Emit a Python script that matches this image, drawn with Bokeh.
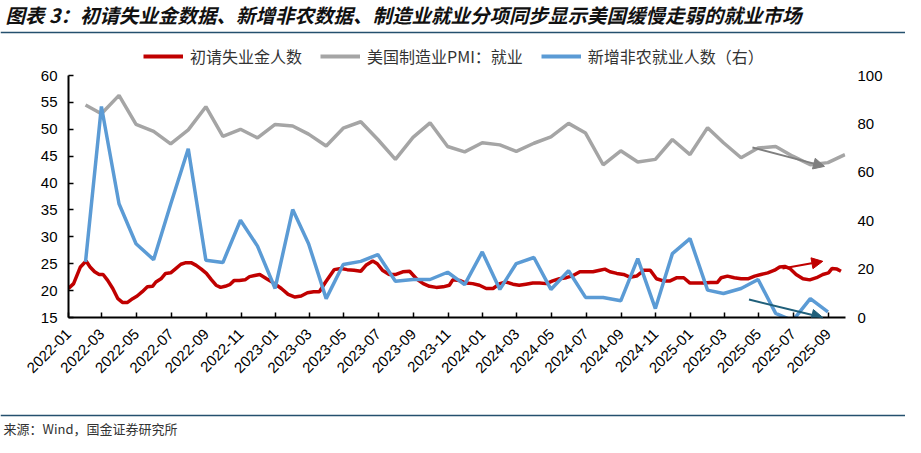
import pandas as pd
from math import pi
from bokeh.plotting import figure
from bokeh.layouts import column
from bokeh.models import (Range1d, LinearAxis, FixedTicker, DatetimeTickFormatter,
                          Legend, LegendItem, Arrow, NormalHead, ColumnDataSource)
from bokeh.core.properties import value
from bokeh.embed import file_html
from bokeh.resources import INLINE

# ---------------- data ----------------
title_text = "图表 3：初请失业金数据、新增非农数据、制造业就业分项同步显示美国缓慢走弱的就业市场"
source_text = "来源：Wind，国金证券研究所"
series_names = ["初请失业金人数", "美国制造业PMI：就业", "新增非农就业人数（右）"]

# monthly observation dates (month ends), Jan 2022 .. Sep 2025
month_ends = pd.date_range("2022-01-31", periods=45, freq=pd.offsets.MonthEnd())

# US ISM manufacturing PMI: employment (left axis)
pmi_employment = [54.5, 52.9, 56.3, 50.9, 49.6, 47.3, 49.9, 54.2, 48.7, 50.0, 48.4, 50.9,
                  50.6, 49.1, 46.9, 50.2, 51.4, 48.1, 44.4, 48.5, 51.2, 46.8, 45.8, 47.5,
                  47.1, 45.9, 47.4, 48.6, 51.1, 49.3, 43.4, 46.0, 43.9, 44.4, 48.1, 45.3,
                  50.3, 47.5, 44.7, 46.5, 46.8, 45.0, 43.4, 43.8, 45.3]

# Nonfarm payrolls change, 10k persons (right axis), Jan 2022 .. Aug 2025
nonfarm = [23.0, 87.2, 47.0, 30.5, 23.9, 46.8, 69.7, 23.7, 22.7, 40.2, 29.5, 12.0,
           44.6, 30.5, 7.8, 21.9, 23.2, 26.0, 15.0, 15.7, 15.7, 18.7, 13.6, 27.1,
           11.6, 22.3, 24.8, 11.6, 19.3, 8.3, 8.3, 6.9, 24.3, 3.7, 26.4, 32.6,
           11.3, 9.9, 12.0, 15.7, 1.7, -1.3, 7.8, 2.3]

# Initial jobless claims, 10k persons (left axis)
claims_dates = [
    "2022-01-01", "2022-01-10", "2022-01-22", "2022-02-01", "2022-02-08", "2022-02-16",
    "2022-02-24", "2022-03-03", "2022-03-11", "2022-03-20", "2022-03-29", "2022-04-06",
    "2022-04-15", "2022-04-24", "2022-05-02", "2022-05-11", "2022-05-20", "2022-05-29",
    "2022-06-04", "2022-06-13", "2022-06-21", "2022-06-30", "2022-07-09", "2022-07-18",
    "2022-07-27", "2022-08-05", "2022-08-14", "2022-08-23", "2022-09-01", "2022-09-10",
    "2022-09-18", "2022-09-26", "2022-10-04", "2022-10-12", "2022-10-20", "2022-10-29",
    "2022-11-08", "2022-11-16", "2022-11-25", "2022-12-04", "2022-12-16", "2022-12-30",
    "2023-01-11", "2023-01-23", "2023-02-04", "2023-02-15", "2023-02-26", "2023-03-09",
    "2023-03-19", "2023-03-30", "2023-04-14", "2023-04-26", "2023-05-07", "2023-05-19",
    "2023-05-31", "2023-06-09", "2023-06-21", "2023-06-29", "2023-07-08", "2023-07-20",
    "2023-08-01", "2023-08-13", "2023-08-25", "2023-09-06", "2023-09-18", "2023-09-29",
    "2023-10-11", "2023-10-23", "2023-11-03", "2023-11-09", "2023-11-21", "2023-12-02",
    "2023-12-14", "2023-12-26", "2024-01-07", "2024-01-19", "2024-01-31", "2024-02-11",
    "2024-02-23", "2024-03-05", "2024-03-17", "2024-03-29", "2024-04-10", "2024-04-22",
    "2024-05-03", "2024-05-15", "2024-05-27", "2024-06-08", "2024-06-20", "2024-07-01",
    "2024-07-13", "2024-07-25", "2024-08-03", "2024-08-12", "2024-08-24", "2024-09-05",
    "2024-09-16", "2024-09-28", "2024-10-04", "2024-10-10", "2024-10-22", "2024-11-02",
    "2024-11-14", "2024-11-26", "2024-12-08", "2024-12-20", "2024-12-31", "2025-01-12",
    "2025-01-24", "2025-02-05", "2025-02-17", "2025-02-24", "2025-03-07", "2025-03-19",
    "2025-03-31", "2025-04-12", "2025-04-24", "2025-05-05", "2025-05-17", "2025-05-29",
    "2025-06-07", "2025-06-16", "2025-06-25", "2025-07-06", "2025-07-18", "2025-07-30",
    "2025-08-11", "2025-08-22", "2025-09-01", "2025-09-07", "2025-09-16", "2025-09-23"]
claims = [
    20.4, 21.3, 24.4, 25.5, 24.4, 23.5, 23.0, 23.0, 21.9, 20.4, 18.5, 17.8,
    17.8, 18.5, 19.0, 19.8, 20.7, 20.8, 21.6, 22.2, 23.2, 23.3, 24.1, 24.9,
    25.2, 25.2, 24.7, 24.0, 23.2, 22.0, 21.0, 20.6, 20.8, 21.1, 21.9, 21.9,
    22.0, 22.6, 22.8, 23.0, 22.2, 21.3, 20.4, 19.3, 18.8, 19.0, 19.6, 19.8,
    19.8, 21.6, 23.9, 24.1, 23.9, 23.8, 23.6, 24.7, 25.5, 25.0, 23.8, 23.0,
    23.0, 23.5, 23.6, 22.2, 21.3, 20.8, 20.6, 20.7, 21.0, 22.0, 21.9, 21.4,
    21.3, 21.0, 20.4, 20.4, 21.3, 21.6, 21.2, 21.0, 21.2, 21.4, 21.4, 21.3,
    21.8, 22.2, 22.4, 22.8, 23.5, 23.5, 23.5, 23.8, 24.0, 23.5, 23.2, 23.0,
    22.5, 22.7, 23.2, 23.8, 23.8, 22.2, 21.8, 21.8, 22.4, 22.4, 21.4, 21.4,
    21.4, 21.5, 21.5, 22.4, 22.7, 22.4, 22.2, 22.2, 22.7, 23.0, 23.3, 23.8,
    24.4, 24.5, 24.1, 23.0, 22.2, 22.0, 22.4, 23.0, 23.3, 24.1, 24.0, 23.6]

# trend arrows: (start date, start value, end date, end value)
arrow_pmi = ("2025-04-20", 46.6, "2025-08-25", 43.1)
arrow_claims = ("2025-06-12", 24.1, "2025-08-22", 25.45)
arrow_nonfarm = ("2025-04-14", 7.4, "2025-08-22", 0.0)

left_ticks = [15, 20, 25, 30, 35, 40, 45, 50, 55, 60]
right_ticks = [0, 20, 40, 60, 80, 100]
x_tick_dates = pd.date_range("2022-01-01", "2025-09-01", freq=pd.offsets.MonthBegin(2))

# ---------------- styling ----------------
RED = "#C00000"
GREY = "#A5A5A5"
BLUE = "#5B9BD5"
RULE = "#24506E"
CJK = "Noto Sans CJK SC"
LAT = "Liberation Sans"
W = 905


def ms(d):
    return pd.Timestamp(d).timestamp() * 1000.0


def blank_fig(h):
    f = figure(width=W, height=h, output_backend="svg", toolbar_location=None,
               x_range=Range1d(0, W), y_range=Range1d(h, 0), min_border=0,
               x_axis_location=None, y_axis_location=None, frame_align=False)
    f.outline_line_color = None
    f.xgrid.visible = False
    f.ygrid.visible = False
    f.background_fill_color = "white"
    f.border_fill_color = "white"
    return f


# ---------------- header: title, rule, legend ----------------
p_top = blank_fig(68)
p_top.text(x=[5], y=[14], text=[title_text], text_font=value(CJK), text_font_size="19.5px",
           text_font_style="bold italic", text_color="#111111",
           text_baseline="middle", text_align="left")
p_top.segment(x0=[0], y0=[32], x1=[W], y1=[32], line_color=RULE, line_width=1.5)

lg_red = p_top.line(x=[-10], y=[-10], line_color=RED, line_width=4)
lg_grey = p_top.line(x=[-10], y=[-10], line_color=GREY, line_width=4)
lg_blue = p_top.line(x=[-10], y=[-10], line_color=BLUE, line_width=4)
legend = Legend(items=[LegendItem(label=series_names[0], renderers=[lg_red]),
                       LegendItem(label=series_names[1], renderers=[lg_grey]),
                       LegendItem(label=series_names[2], renderers=[lg_blue])],
                orientation="horizontal", location=(143, 0),
                glyph_width=40, glyph_height=18, label_height=18, label_standoff=7,
                spacing=18, padding=0, margin=0,
                label_text_font=CJK, label_text_font_size="16px", label_text_color="#333333",
                border_line_color=None, background_fill_alpha=0)
p_top.add_layout(legend)

# ---------------- main chart ----------------
p = figure(width=W, height=332, output_backend="svg", toolbar_location=None,
           x_axis_type="datetime", frame_align=False,
           x_range=Range1d(ms("2022-01-01"), ms("2025-10-01")),
           y_range=Range1d(15, 60),
           min_border_left=68, min_border_right=60, min_border_top=7, min_border_bottom=83)
p.extra_y_ranges = {"right": Range1d(0, 100)}
p.outline_line_color = None
p.xgrid.visible = False
p.ygrid.visible = False
p.background_fill_color = "white"
p.border_fill_color = "white"

src_m = ColumnDataSource(dict(x=month_ends, pmi=pmi_employment))
src_n = ColumnDataSource(dict(x=month_ends[:len(nonfarm)], nf=nonfarm))
src_c = ColumnDataSource(dict(x=pd.to_datetime(claims_dates), c=claims))

p.line("x", "c", source=src_c, line_color=RED, line_width=3.5)
p.line("x", "pmi", source=src_m, line_color=GREY, line_width=3.5)
p.line("x", "nf", source=src_n, line_color=BLUE, line_width=3.5, y_range_name="right")

xa = p.xaxis[0]
xa.ticker = FixedTicker(ticks=[ms(d) for d in x_tick_dates])
fmt = "%Y-%m"
xa.formatter = DatetimeTickFormatter(microseconds=fmt, milliseconds=fmt, seconds=fmt, minsec=fmt,
                                     minutes=fmt, hourmin=fmt, hours=fmt, days=fmt,
                                     months=fmt, years=fmt)
xa.major_label_orientation = pi / 4
xa.minor_tick_line_color = None
xa.major_tick_in = 5
xa.major_tick_out = 0
xa.axis_line_width = 2
xa.major_tick_line_width = 1.5
xa.axis_line_color = "black"
xa.major_label_text_font = LAT
xa.major_label_text_font_size = "15px"
xa.major_label_text_color = "black"
xa.major_label_standoff = 14

ya = p.yaxis[0]
ya.ticker = FixedTicker(ticks=left_ticks)
ya.minor_tick_line_color = None
ya.major_tick_in = 5
ya.major_tick_out = 0
ya.axis_line_width = 2
ya.major_tick_line_width = 1.5
ya.major_label_text_font = LAT
ya.major_label_text_font_size = "15px"
ya.major_label_text_color = "black"
ya.major_label_standoff = 11

yr = LinearAxis(y_range_name="right", ticker=FixedTicker(ticks=right_ticks))
yr.axis_line_color = None
yr.major_tick_line_color = None
yr.minor_tick_line_color = None
yr.major_tick_in = 0
yr.major_tick_out = 0
yr.major_label_text_font = LAT
yr.major_label_text_font_size = "15px"
yr.major_label_text_color = "black"
yr.major_label_standoff = 12
p.add_layout(yr, "right")

for (d0, v0, d1, v1), col, rng in [(arrow_pmi, "#7F7F7F", "default"),
                                   (arrow_claims, RED, "default"),
                                   (arrow_nonfarm, "#1F5F7A", "right")]:
    p.add_layout(Arrow(x_start=ms(d0), y_start=v0, x_end=ms(d1), y_end=v1,
                       line_color=col, line_width=2, y_range_name=rng,
                       end=NormalHead(size=11, fill_color=col, line_color=col)))

# ---------------- footer: rule, source ----------------
p_bot = blank_fig(37)
p_bot.segment(x0=[0], y0=[15], x1=[W], y1=[15], line_color=RULE, line_width=1.5)
p_bot.text(x=[3], y=[28], text=[source_text], text_font=value(CJK), text_font_size="13px",
           text_color="#333333", text_baseline="middle", text_align="left")

layout = column(p_top, p, p_bot, spacing=0)
open("out.html", "w").write(file_html(layout, INLINE))
